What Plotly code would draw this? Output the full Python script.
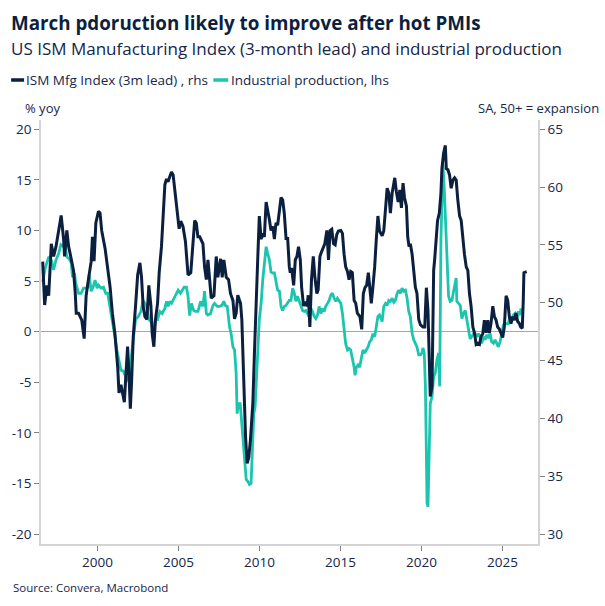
import plotly.graph_objects as go

# ---------------- data ----------------
ism_years = [1996.62, 1996.74, 1996.88, 1996.99, 1997.15, 1997.29, 1997.44, 1997.56, 1997.76, 1997.91,
             1997.97, 1998.11, 1998.22, 1998.32, 1998.52, 1998.63, 1998.69, 1998.83, 1999.03, 1999.18,
             1999.30, 1999.44, 1999.61, 1999.69, 1999.79, 1999.90, 2000.06, 2000.16, 2000.26, 2000.47,
             2000.63, 2000.78, 2000.92, 2001.08, 2001.25, 2001.33, 2001.45, 2001.53, 2001.66, 2001.76,
             2001.86, 2001.94, 2002.03, 2002.11, 2002.21, 2002.35, 2002.48, 2002.62, 2002.72, 2002.82,
             2002.93, 2003.05, 2003.17, 2003.30, 2003.38, 2003.48, 2003.58, 2003.71, 2003.81, 2003.95,
             2004.08, 2004.16, 2004.26, 2004.36, 2004.46, 2004.57, 2004.67, 2004.77, 2004.91, 2005.04,
             2005.14, 2005.28, 2005.43, 2005.49, 2005.59, 2005.76, 2005.88, 2006.00, 2006.10, 2006.20,
             2006.31, 2006.51, 2006.61, 2006.72, 2006.82, 2006.92, 2007.02, 2007.19, 2007.33, 2007.43,
             2007.60, 2007.70, 2007.80, 2007.95, 2008.09, 2008.21, 2008.36, 2008.46, 2008.56, 2008.66,
             2008.83, 2008.91, 2009.03, 2009.14, 2009.24, 2009.34, 2009.44, 2009.59, 2009.69, 2009.79,
             2009.89, 2009.99, 2010.10, 2010.20, 2010.30, 2010.41, 2010.51, 2010.61, 2010.71, 2010.82,
             2010.92, 2011.02, 2011.12, 2011.23, 2011.33, 2011.43, 2011.53, 2011.64, 2011.74, 2011.84,
             2011.90, 2011.98, 2012.11, 2012.21, 2012.31, 2012.41, 2012.52, 2012.60, 2012.72, 2012.80,
             2012.93, 2013.01, 2013.11, 2013.21, 2013.32, 2013.42, 2013.54, 2013.62, 2013.73, 2013.83,
             2013.93, 2014.03, 2014.16, 2014.26, 2014.36, 2014.46, 2014.57, 2014.67, 2014.77, 2014.87,
             2015.02, 2015.12, 2015.22, 2015.32, 2015.43, 2015.53, 2015.63, 2015.73, 2015.84, 2015.94,
             2016.04, 2016.20, 2016.31, 2016.41, 2016.51, 2016.61, 2016.72, 2016.82, 2016.90, 2017.00,
             2017.11, 2017.21, 2017.31, 2017.41, 2017.57, 2017.67, 2017.78, 2017.88, 2017.98, 2018.08,
             2018.19, 2018.29, 2018.35, 2018.45, 2018.56, 2018.66, 2018.76, 2018.86, 2018.95, 2019.07,
             2019.15, 2019.23, 2019.31, 2019.42, 2019.52, 2019.62, 2019.72, 2019.83, 2019.93, 2020.09,
             2020.20, 2020.30, 2020.40, 2020.50, 2020.54, 2020.65, 2020.71, 2020.75, 2020.81, 2020.91,
             2020.99, 2021.10, 2021.20, 2021.26, 2021.36, 2021.47, 2021.53, 2021.63, 2021.73, 2021.83,
             2021.94, 2022.04, 2022.14, 2022.24, 2022.35, 2022.45, 2022.55, 2022.65, 2022.76, 2022.86,
             2022.96, 2023.06, 2023.17, 2023.27, 2023.37, 2023.47, 2023.58, 2023.68, 2023.78, 2023.88,
             2023.99, 2024.09, 2024.19, 2024.29, 2024.40, 2024.50, 2024.60, 2024.70, 2024.81, 2024.91,
             2025.01, 2025.11, 2025.22, 2025.32, 2025.42, 2025.52, 2025.63, 2025.73, 2025.83, 2025.93,
             2026.04, 2026.12, 2026.22, 2026.28, 2026.32, 2026.49]
ism_values = [53.55, 49.8, 51.5, 50.6, 55.1, 54.0, 54.85, 56.0, 57.55, 55.5,
              54.0, 56.25, 54.85, 54.2, 52.8, 50.8, 49.1, 49.1, 48.5, 46.9,
              50.6, 52.0, 53.55, 55.7, 53.6, 56.9, 57.9, 57.75, 56.25, 54.7,
              53.1, 51.35, 49.1, 47.3, 44.4, 42.2, 42.9, 42.2, 41.4, 43.9,
              46.2, 43.9, 40.85, 43.3, 47.1, 49.7, 52.4, 53.45, 52.2, 49.7,
              48.8, 48.55, 51.5, 49.7, 47.3, 46.2, 48.55, 49.95, 52.6, 54.85,
              57.75, 60.2, 60.7, 60.45, 60.9, 61.3, 61.05, 59.75, 58.35, 56.4,
              57.05, 56.6, 55.3, 54.0, 52.4, 52.6, 54.6, 57.1, 56.9, 55.7,
              55.7, 55.1, 53.1, 52.0, 53.7, 52.2, 50.4, 50.6, 54.0, 52.2,
              53.8, 52.2, 53.7, 52.2, 52.0, 50.8, 50.2, 48.6, 49.1, 50.65,
              49.95, 48.55, 42.8, 38.4, 36.1, 36.65, 38.1, 41.3, 45.7, 50.6,
              53.7, 57.5, 55.5, 56.0, 55.7, 58.7, 58.0, 57.2, 56.25, 56.6,
              55.5, 56.9, 56.7, 58.0, 59.1, 58.9, 57.75, 55.55, 55.55, 53.1,
              52.6, 53.0, 51.5, 53.7, 54.0, 54.85, 53.7, 51.35, 49.7, 50.1,
              49.7, 50.65, 47.9, 52.0, 54.0, 52.2, 50.8, 51.1, 54.0, 54.4,
              54.7, 55.1, 56.25, 53.7, 56.25, 56.35, 55.1, 55.0, 55.9, 56.2,
              56.25, 56.0, 54.2, 53.1, 52.7, 52.0, 52.7, 52.6, 50.2, 49.95,
              49.1, 48.8, 47.7, 50.8, 51.3, 51.5, 52.6, 51.35, 49.95, 51.35,
              53.1, 55.5, 57.5, 56.2, 55.8, 56.2, 58.0, 59.9, 59.5, 57.75,
              59.5, 60.2, 60.8, 59.6, 58.7, 59.75, 58.2, 60.35, 59.1, 58.35,
              55.7, 54.85, 55.1, 54.2, 52.8, 51.35, 50.8, 48.55, 48.1, 47.9,
              47.9, 51.3, 49.3, 45.05, 41.9, 42.8, 48.55, 52.8, 53.7, 55.5,
              57.1, 57.75, 59.5, 61.6, 62.9, 63.6, 61.6, 61.5, 61.05, 59.9,
              60.6, 60.8, 60.6, 58.9, 57.5, 57.1, 55.5, 54.2, 53.1, 52.8,
              50.8, 49.7, 47.9, 47.4, 46.4, 46.5, 46.4, 47.1, 47.3, 48.5,
              47.4, 48.5, 47.4, 48.2, 49.7, 48.8, 48.5, 47.9, 47.7, 47.3,
              47.0, 47.9, 50.6, 50.2, 48.8, 48.2, 48.8, 48.5, 49.1, 48.4,
              48.2, 47.9, 47.8, 50.2, 52.6, 52.7]

ip_years = [1996.62, 1996.78, 1996.99, 1997.15, 1997.29, 1997.44, 1997.60, 1997.74, 1997.91, 1998.01,
            1998.11, 1998.26, 1998.38, 1998.46, 1998.58, 1998.66, 1998.83, 1998.99, 1999.14, 1999.28,
            1999.40, 1999.49, 1999.61, 1999.73, 1999.85, 1999.98, 2000.06, 2000.22, 2000.37, 2000.51,
            2000.63, 2000.78, 2000.92, 2001.08, 2001.19, 2001.33, 2001.45, 2001.60, 2001.74, 2001.86,
            2001.94, 2002.07, 2002.21, 2002.35, 2002.52, 2002.68, 2002.82, 2002.93, 2003.03, 2003.17,
            2003.30, 2003.38, 2003.48, 2003.58, 2003.71, 2003.85, 2003.99, 2004.16, 2004.26, 2004.36,
            2004.46, 2004.57, 2004.73, 2004.87, 2004.98, 2005.12, 2005.22, 2005.35, 2005.49, 2005.59,
            2005.69, 2005.80, 2005.94, 2006.06, 2006.20, 2006.37, 2006.51, 2006.61, 2006.72, 2006.82,
            2006.98, 2007.13, 2007.23, 2007.39, 2007.54, 2007.68, 2007.80, 2007.89, 2008.01, 2008.15,
            2008.25, 2008.36, 2008.46, 2008.56, 2008.62, 2008.70, 2008.81, 2008.87, 2008.97, 2009.03,
            2009.11, 2009.18, 2009.28, 2009.38, 2009.48, 2009.54, 2009.65, 2009.73, 2009.79, 2009.89,
            2009.99, 2010.10, 2010.20, 2010.30, 2010.41, 2010.51, 2010.61, 2010.71, 2010.82, 2010.92,
            2011.02, 2011.12, 2011.23, 2011.33, 2011.43, 2011.53, 2011.64, 2011.74, 2011.84, 2011.94,
            2012.05, 2012.15, 2012.25, 2012.35, 2012.46, 2012.56, 2012.66, 2012.76, 2012.86, 2012.97,
            2013.07, 2013.17, 2013.27, 2013.38, 2013.48, 2013.58, 2013.68, 2013.79, 2013.89, 2013.99,
            2014.09, 2014.20, 2014.30, 2014.40, 2014.50, 2014.61, 2014.71, 2014.81, 2014.91, 2015.02,
            2015.12, 2015.22, 2015.32, 2015.43, 2015.53, 2015.63, 2015.73, 2015.84, 2015.90, 2015.98,
            2016.08, 2016.18, 2016.29, 2016.39, 2016.49, 2016.59, 2016.70, 2016.80, 2016.90, 2017.00,
            2017.11, 2017.21, 2017.31, 2017.41, 2017.57, 2017.67, 2017.78, 2017.88, 2017.98, 2018.08,
            2018.19, 2018.29, 2018.39, 2018.50, 2018.60, 2018.70, 2018.80, 2018.90, 2019.01, 2019.11,
            2019.21, 2019.31, 2019.42, 2019.52, 2019.62, 2019.72, 2019.83, 2019.93, 2020.03, 2020.09,
            2020.17, 2020.24, 2020.30, 2020.34, 2020.40, 2020.46, 2020.54, 2020.65, 2020.75, 2020.85,
            2020.95, 2021.06, 2021.12, 2021.20, 2021.26, 2021.32, 2021.40, 2021.49, 2021.57, 2021.67,
            2021.77, 2021.88, 2021.98, 2022.08, 2022.14, 2022.18, 2022.29, 2022.39, 2022.49, 2022.59,
            2022.70, 2022.80, 2022.90, 2023.00, 2023.10, 2023.21, 2023.31, 2023.41, 2023.52, 2023.62,
            2023.72, 2023.82, 2023.92, 2024.03, 2024.13, 2024.23, 2024.33, 2024.44, 2024.54, 2024.64,
            2024.74, 2024.85, 2024.95, 2025.05, 2025.15, 2025.26, 2025.36, 2025.46, 2025.56, 2025.67,
            2025.77, 2025.87, 2025.97, 2026.08, 2026.14]
ip_values = [4.9, 6.3, 7.4, 7.1, 6.1, 7.1, 7.7, 8.6, 8.4, 8.4,
             7.4, 7.2, 6.8, 5.4, 5.8, 4.8, 3.8, 3.8, 4.3, 4.3,
             4.4, 5.6, 4.0, 4.4, 5.1, 4.3, 4.6, 4.3, 4.4, 3.8,
             3.8, 2.5, 1.2, -0.5, -1.8, -3.1, -3.8, -3.9, -4.4, -4.9,
             -4.6, -2.8, -0.5, 1.2, 1.5, 2.0, 3.1, 2.8, 2.5, 1.2,
             1.0, 0.5, 0.15, 1.2, 1.2, 2.0, 1.8, 2.3, 3.0, 2.5,
             3.0, 2.8, 3.3, 3.6, 4.1, 3.8, 4.1, 4.4, 4.4, 3.5,
             1.6, 2.8, 2.1, 2.0, 2.0, 3.0, 2.5, 4.0, 1.8, 1.65,
             1.8, 2.6, 2.8, 2.5, 2.5, 2.6, 3.0, 2.6, 2.5, 0.5,
             -0.2, -1.5, -1.8, -4.1, -8.1, -7.1, -7.1, -8.4, -9.7, -12.0,
             -13.3, -14.6, -14.8, -15.1, -15.0, -12.0, -8.1, -7.4, -4.8, -2.1,
             1.2, 2.8, 5.1, 6.7, 8.4, 7.7, 7.1, 5.9, 5.8, 5.8,
             4.8, 4.1, 4.0, 2.5, 2.1, 2.5, 2.6, 2.8, 3.1, 3.1,
             4.3, 3.8, 3.0, 3.5, 3.0, 2.5, 2.1, 2.0, 2.1, 1.8,
             1.5, 2.3, 2.0, 1.5, 1.3, 1.65, 2.5, 1.8, 2.3, 2.0,
             2.5, 2.8, 3.1, 3.6, 3.8, 3.3, 3.0, 3.3, 3.1, 2.8,
             1.8, 0.15, -1.2, -1.8, -1.65, -1.8, -2.5, -3.5, -4.3, -3.5,
             -3.3, -3.5, -2.6, -1.8, -2.1, -1.8, -1.5, -1.0, -0.8, -0.2,
             -0.5, 0.5, 1.5, 1.65, 1.0, 2.5, 2.8, 2.6, 3.1, 3.0,
             3.3, 2.9, 3.1, 3.8, 4.1, 3.8, 4.3, 4.0, 4.1, 3.3,
             2.0, 1.5, -0.15, -0.8, -1.15, -1.5, -2.3, -2.3, -2.1, -1.6,
             -2.1, -5.4, -12.0, -16.9, -17.3, -13.7, -7.1, -6.4, -4.4, -4.1,
             -2.8, -2.1, -5.4, 9.1, 14.3, 16.5, 14.3, 10.0, 6.4, 3.5,
             3.0, 3.1, 4.0, 5.1, 5.3, 3.0, 2.8, 2.6, 1.3, 1.8,
             2.1, 1.15, -0.15, -0.7, -0.5, -0.2, -0.2, -0.5, -0.2, -0.5,
             -1.15, -0.5, -0.8, -0.3, -0.65, -0.15, -1.0, -1.15, -0.8, -1.15,
             -1.5, -1.0, -0.3, 0.65, 0.8, 0.8, 0.8, 1.5, 1.15, 1.65,
             1.8, 1.15, 2.0, 1.65, 2.3]

year_ticks = [2000, 2005, 2010, 2015, 2020, 2025]
left_ticks = [-20, -15, -10, -5, 0, 5, 10, 15, 20]
left_tick_text = ["-20", "-15", "-10", "-5", "0", "5", "10", "15", "20"]
right_ticks = [30, 35, 40, 45, 50, 55, 60, 65]

# ---------------- styling ----------------
NAVY = "#0b1f3f"
TEAL = "#1cc5ae"
TEXT = "#14264a"
AXIS = "#d4d4d4"
FONT = "Open Sans"

W, H = 605, 606
L_M, R_M, T_M, B_M = 39, 67, 120, 62
PW, PH = W - L_M - R_M, H - T_M - B_M


def px(x):
    return (x - L_M) / PW


def py(y):
    return (H - B_M - y) / PH


fig = go.Figure()
fig.add_trace(go.Scatter(x=ism_years, y=ism_values, mode="lines", yaxis="y2",
                         name="ISM Mfg Index (3m lead) , rhs",
                         line=dict(color=NAVY, width=3), showlegend=False))
fig.add_trace(go.Scatter(x=ip_years, y=ip_values, mode="lines", yaxis="y",
                         name="Industrial production, lhs",
                         line=dict(color=TEAL, width=2.8), showlegend=False))

annotations = [
    dict(text="<b>March pdoruction likely to improve after hot PMIs</b>", x=px(7), y=py(23),
         font=dict(size=18.8, color=NAVY, family=FONT)),
    dict(text="US ISM Manufacturing Index (3-month lead) and industrial production", x=px(7), y=py(49),
         font=dict(size=17, color=TEXT, family=FONT)),
    dict(text="ISM Mfg Index (3m lead) , rhs", x=px(22), y=py(80),
         font=dict(size=13.5, color=TEXT, family=FONT)),
    dict(text="Industrial production, lhs", x=px(228), y=py(80),
         font=dict(size=13.5, color=TEXT, family=FONT)),
    dict(text="% yoy", x=px(21), y=py(108),
         font=dict(size=13, color=TEXT, family=FONT)),
    dict(text="Source: Convera, Macrobond", x=px(9), y=py(587),
         font=dict(size=11.5, color=TEXT, family=FONT)),
]
for a in annotations:
    a.update(xref="paper", yref="paper", xanchor="left", yanchor="middle", showarrow=False)
annotations.append(dict(text="SA, 50+ = expansion", x=px(601), y=py(108), xref="paper", yref="paper",
                        xanchor="right", yanchor="middle", showarrow=False,
                        font=dict(size=13, color=TEXT, family=FONT)))

shapes = [
    dict(type="line", xref="paper", yref="paper", x0=px(9), x1=px(22), y0=py(80), y1=py(80),
         line=dict(color=NAVY, width=3.5)),
    dict(type="line", xref="paper", yref="paper", x0=px(212), x1=px(227), y0=py(80), y1=py(80),
         line=dict(color=TEAL, width=3.5)),
]

fig.update_layout(
    width=W, height=H,
    margin=dict(l=L_M, r=R_M, t=T_M, b=B_M, pad=0),
    paper_bgcolor="white", plot_bgcolor="white",
    font=dict(family=FONT, size=13, color=TEXT),
    annotations=annotations, shapes=shapes,
    xaxis=dict(range=[1996.515, 2027.19], tickvals=year_ticks, ticktext=[str(t) for t in year_ticks],
               showgrid=False, zeroline=False, showline=True, linecolor=AXIS, linewidth=1.5,
               ticks="outside", ticklen=5, tickcolor="#808080", tickwidth=1,
               tickfont=dict(size=13.5, color=TEXT)),
    yaxis=dict(range=[-20.98, 20.92], tickvals=left_ticks, ticktext=left_tick_text,
               showgrid=False, zeroline=True, zerolinecolor="#a6a6a6", zerolinewidth=1.2,
               showline=True, linecolor=AXIS, linewidth=1.5,
               ticks="outside", ticklen=5, tickcolor="#808080", tickwidth=1,
               tickfont=dict(size=13.5, color=TEXT)),
    yaxis2=dict(range=[29.14, 65.8], tickvals=right_ticks, overlaying="y", side="right",
                showgrid=False, zeroline=False, showline=True, linecolor=AXIS, linewidth=1.5,
                ticks="outside", ticklen=5, tickcolor="#808080", tickwidth=1,
                tickfont=dict(size=13.5, color=TEXT)),
    showlegend=False,
)

fig.write_html("out.html")
